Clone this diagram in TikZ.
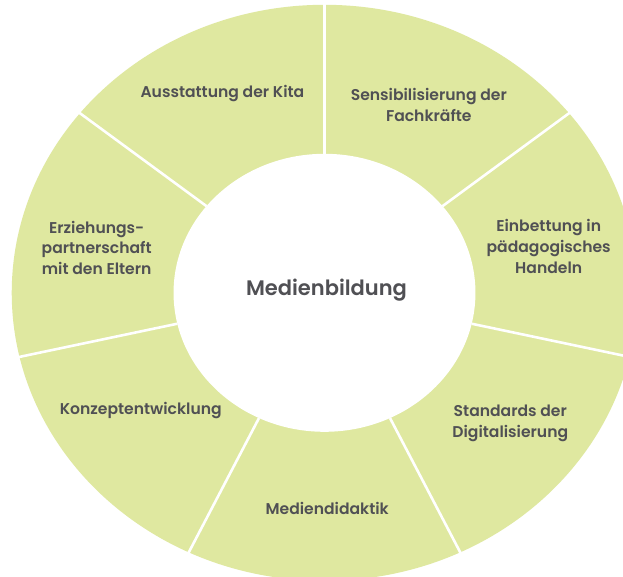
\documentclass[tikz,border=0pt]{standalone}
\usepackage{fontspec}
\setmainfont{Poppins}[UprightFont={* SemiBold}]
\definecolor{ringgreen}{RGB}{223,232,160}
\definecolor{labelgray}{RGB}{80,80,84}
\begin{document}
\begin{tikzpicture}[x=1pt,y=1pt,
  seglabel/.style={text=labelgray, align=center, font=\fontsize{15.6}{20.7}\selectfont, inner sep=0pt},
  centerlabel/.style={text=labelgray, font=\fontsize{21}{26}\selectfont, inner sep=0pt},
  divider/.style={draw=white, line width=2.6pt}]
\useasboundingbox (0,0) rectangle (623,576);
\clip (0,0) rectangle (623,576);
\fill[white] (0,0) rectangle (623,576);
\begin{scope}[shift={(324.5,283.2)}, xscale=1.086]
  \fill[ringgreen] (0,0) circle (288);
  \foreach \a in {90, 38.571, -12.857, -64.286, -115.714, -167.143, 141.429}
    \draw[divider] (\a:139) -- (\a:300);
  \fill[white] (0,0) circle (139);
\end{scope}
\node[centerlabel] (center) at (326.5,285.7) {Medienbildung};
\node[seglabel] (aus) at (222.4,482) {Ausstattung der Kita};
\node[seglabel] (sens) at (428.8,471.3) {Sensibilisierung der\\Fachkräfte};
\node[seglabel] (einb) at (548.7,329.4) {Einbettung in\\pädagogisches\\Handeln};
\node[seglabel] (stand) at (510.3,152.7) {Standards der\\Digitalisierung};
\node[seglabel] (medd) at (327.2,68) {Mediendidaktik};
\node[seglabel] (konz) at (140.8,165.3) {Konzeptentwicklung};
\node[seglabel] (erz) at (96.7,328.2) {Erziehungs-\\partnerschaft\\mit den Eltern};
\end{tikzpicture}
\end{document}
